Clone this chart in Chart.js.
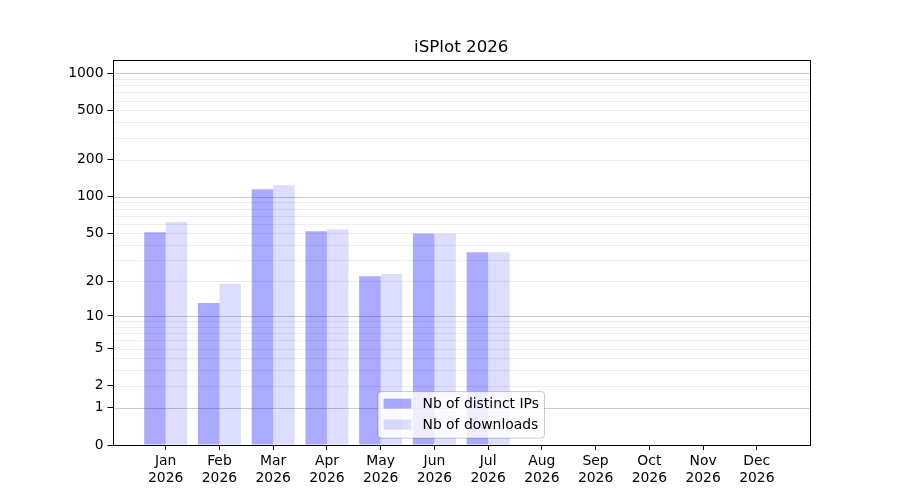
<!DOCTYPE html>
<html>
<head>
<meta charset="utf-8">
<script src="https://cdn.jsdelivr.net/npm/chart.js@4"></script>
<style>
html,body{margin:0;padding:0;background:#fff;}
canvas{display:block;}
</style>
</head>
<body>
<canvas id="c" width="900" height="500"></canvas>
<script>
const chartTitle = 'iSPlot 2026';
const months = ['Jan','Feb','Mar','Apr','May','Jun','Jul','Aug','Sep','Oct','Nov','Dec'];
const yearLabel = '2026';
const distinctIPs = [51, 13, 115, 52, 22, 50, 35, 0, 0, 0, 0, 0];
const downloads   = [62, 19, 124, 54, 23, 50, 35, 0, 0, 0, 0, 0];
const yTickValues = [0, 1, 2, 5, 10, 20, 50, 100, 200, 500, 1000];
const yTickLabels = ['0','1','2','5','10','20','50','100','200','500','1000'];
const majorGridValues = [1, 10, 100, 1000];
const minorGridValues = [];
[1, 10, 100].forEach(d => { for (let k = 2; k <= 9; k++) minorGridValues.push(k * d); });

const tf = v => Math.log10(v + 1);
const FONT = '"DejaVu Sans", sans-serif';

const gridPlugin = {
  id: 'gridPlugin',
  beforeDatasetsDraw(chart) {
    const {ctx, chartArea: a, scales: {y}} = chart;
    ctx.save();
    ctx.lineWidth = 1;
    ctx.strokeStyle = 'rgba(0,0,0,0.07)';
    minorGridValues.forEach(v => {
      const py = Math.round(y.getPixelForValue(tf(v))) + 0.5;
      ctx.beginPath(); ctx.moveTo(a.left, py); ctx.lineTo(a.right, py); ctx.stroke();
    });
    ctx.strokeStyle = 'rgba(0,0,0,0.2)';
    majorGridValues.forEach(v => {
      const py = Math.round(y.getPixelForValue(tf(v))) + 0.5;
      ctx.beginPath(); ctx.moveTo(a.left, py); ctx.lineTo(a.right, py); ctx.stroke();
    });
    ctx.restore();
  },
  afterDraw(chart) {
    const {ctx, chartArea: a} = chart;
    ctx.save();
    // frame
    ctx.strokeStyle = '#000';
    ctx.lineWidth = 1;
    ctx.strokeRect(Math.round(a.left) + 0.5, Math.round(a.top) + 0.5,
                   Math.round(a.right) - Math.round(a.left), Math.round(a.bottom) - Math.round(a.top));
    // title
    ctx.fillStyle = '#000';
    ctx.font = '16.7px ' + FONT;
    ctx.textAlign = 'center';
    ctx.textBaseline = 'alphabetic';
    ctx.fillText(chartTitle, (a.left + a.right) / 2, 52);
    // legend
    ctx.font = '13.9px ' + FONT;
    const ds = chart.data.datasets;
    let tw = 0;
    ds.forEach(d => { tw = Math.max(tw, ctx.measureText(d.label).width); });
    const pad = 5.6, handle = 27.8, gap = 11.1, rowH = 21;
    const w = pad + handle + gap + tw + pad;
    const h = 46.5;
    const cx = (a.left + a.right) / 2;
    const x0 = cx - w / 2;
    const y1 = a.bottom - 6.9;
    const y0 = y1 - h;
    const r = 3;
    ctx.beginPath();
    ctx.moveTo(x0 + r, y0);
    ctx.arcTo(x0 + w, y0, x0 + w, y1, r);
    ctx.arcTo(x0 + w, y1, x0, y1, r);
    ctx.arcTo(x0, y1, x0, y0, r);
    ctx.arcTo(x0, y0, x0 + w, y0, r);
    ctx.closePath();
    ctx.fillStyle = 'rgba(255,255,255,0.8)';
    ctx.fill();
    ctx.strokeStyle = 'rgba(0,0,0,0.2)';
    ctx.stroke();
    ds.forEach((d, i) => {
      const cy = y0 + 12 + i * rowH;
      ctx.fillStyle = d.backgroundColor;
      ctx.fillRect(x0 + pad, cy - 5, handle, 10);
      ctx.fillStyle = '#000';
      ctx.textAlign = 'left';
      ctx.textBaseline = 'middle';
      ctx.fillText(d.label, x0 + pad + handle + gap, cy + 1);
    });
    ctx.restore();
  }
};

new Chart(document.getElementById('c'), {
  type: 'bar',
  data: {
    datasets: [
      { label: 'Nb of distinct IPs', data: distinctIPs.map((v, i) => ({x: i, y: tf(v)})),
        backgroundColor: 'rgba(0,0,255,0.333)', borderWidth: 0 },
      { label: 'Nb of downloads', data: downloads.map((v, i) => ({x: i, y: tf(v)})),
        backgroundColor: 'rgba(0,0,255,0.133)', borderWidth: 0 }
    ]
  },
  options: {
    responsive: false,
    animation: false,
    devicePixelRatio: 1,
    categoryPercentage: 0.8,
    barPercentage: 1.0,
    layout: { padding: { left: 50, right: 90, top: 60, bottom: 10 } },
    plugins: { legend: { display: false }, title: { display: false }, tooltip: { enabled: false } },
    scales: {
      x: {
        type: 'linear', min: -0.99, max: 11.99, offset: false,
        afterBuildTicks: s => { s.ticks = months.map((m, i) => ({value: i})); },
        afterFit: s => { s.height = 45; },
        ticks: {
          autoSkip: false, maxRotation: 0, color: '#000', padding: 3,
          font: { family: FONT, size: 13.9, lineHeight: 1.2 },
          callback: v => [months[Math.round(v)], yearLabel]
        },
        grid: { offset: false, drawOnChartArea: false, tickLength: 5, tickColor: '#000' },
        border: { display: false }
      },
      y: {
        type: 'linear', min: 0, max: 3.107,
        afterBuildTicks: s => { s.ticks = yTickValues.map(v => ({value: tf(v)})); },
        afterFit: s => { s.width = 62.5; },
        ticks: {
          autoSkip: false, color: '#000', padding: 4,
          font: { family: FONT, size: 13.9 },
          callback: (v, i) => yTickLabels[i]
        },
        grid: { offset: false, drawOnChartArea: false, tickLength: 5, tickColor: '#000' },
        border: { display: false }
      }
    }
  },
  plugins: [gridPlugin]
});
</script>
</body>
</html>
